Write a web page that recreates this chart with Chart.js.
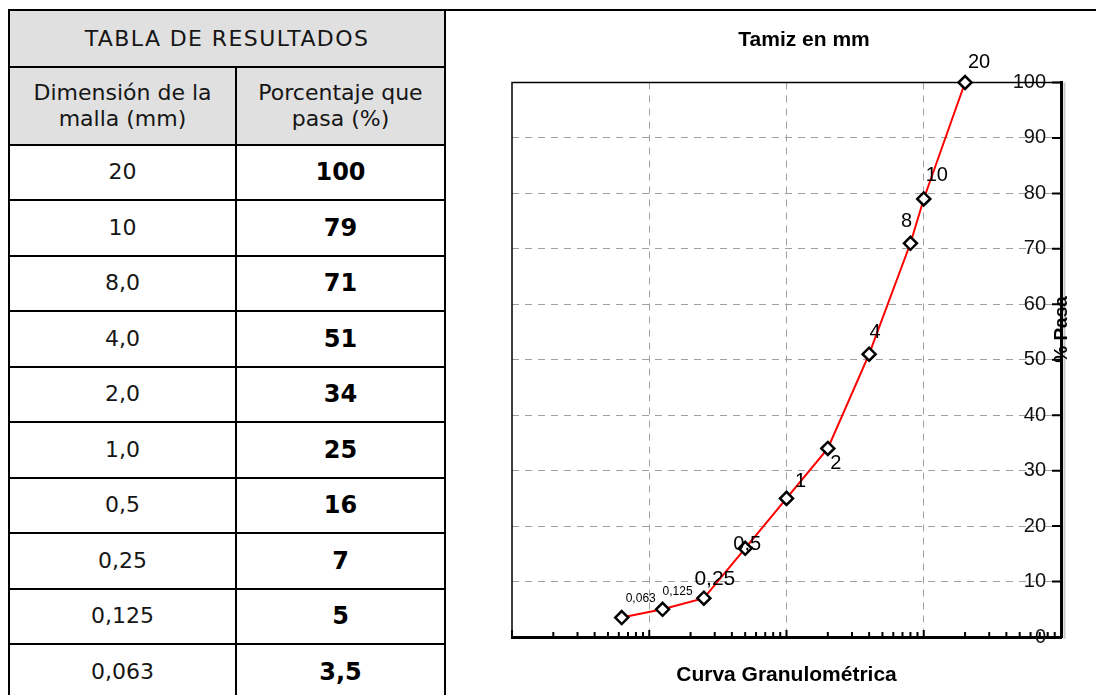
<!DOCTYPE html>
<html>
<head>
<meta charset="utf-8">
<script src="https://cdn.jsdelivr.net/npm/chart.js@4"></script>
<style>
  body { margin: 0; width: 1096px; height: 695px; overflow: hidden; position: relative; background: #fff; }
  #tabla {
    position: absolute; left: 8px; top: 9px; width: 438px;
    display: grid; grid-template-columns: 227px 209px;
    grid-template-rows: 57px 77.5px repeat(10, 55.5px);
    border-left: 2px solid #000; border-top: 2px solid #000;
    font-family: "DejaVu Sans", sans-serif; color: #161616;
  }
  #tabla .c {
    border-right: 2px solid #000; border-bottom: 2px solid #000;
    display: flex; align-items: center; justify-content: center; text-align: center;
    font-size: 22px; line-height: 26px;
  }
  #tabla .gris { background: #e0e0e0; }
  #tabla .tit { grid-column: 1 / 3; letter-spacing: 1.4px; }
  #tabla .n { font-weight: bold; font-size: 24px; color: #000; }
  #panel {
    position: absolute; left: 444px; top: 9px; width: 652px; height: 686px;
    border-top: 2px solid #000; border-left: 2px solid #000; box-sizing: border-box;
  }
  #grafico { position: absolute; left: 0; top: 0; }
</style>
</head>
<body>
<div id="tabla">
  <div class="c gris tit">TABLA DE RESULTADOS</div>
  <div class="c gris">Dimensión de la<br>malla (mm)</div>
  <div class="c gris">Porcentaje que<br>pasa (%)</div>
</div>
<div id="panel"><canvas id="grafico" width="650" height="684"></canvas></div>
<script>
const tamices = [20, 10, 8, 4, 2, 1, 0.5, 0.25, 0.125, 0.063];
const pasa = [100, 79, 71, 51, 34, 25, 16, 7, 5, 3.5];
const rotulos = ['20', '10', '8', '4', '2', '1', '0,5', '0,25', '0,125', '0,063'];
const mallaTabla = ['20', '10', '8,0', '4,0', '2,0', '1,0', '0,5', '0,25', '0,125', '0,063'];
const decadas = [0.01, 0.1, 1, 10, 100];
const marcasY = [0, 10, 20, 30, 40, 50, 60, 70, 80, 90, 100];

// where each sieve label sits next to its marker: dx, dy, font size
const posRotulos = [
  [14, -20, 20], [13, -23, 20], [-4, -22, 20], [6, -22, 20], [8, 15, 20],
  [14, -17, 20], [2, -4, 20], [11, -19, 21], [15, -18, 12], [19, -19, 12]
];

// rows of the results table
const tabla = document.getElementById('tabla');
mallaTabla.forEach((m, i) => {
  const a = document.createElement('div');
  a.className = 'c';
  a.textContent = m;
  const b = document.createElement('div');
  b.className = 'c n';
  b.textContent = String(pasa[i]).replace('.', ',');
  tabla.append(a, b);
});

const fuente = 'Liberation Sans';

// plot frame, inward ticks and the "% Pasa" caption
const marco = {
  id: 'marco',
  beforeDatasetsDraw(chart) {
    const {ctx, chartArea: a, scales: {x, y}} = chart;
    ctx.save();
    ctx.strokeStyle = '#000';
    ctx.lineWidth = 1.5;
    ctx.beginPath();
    ctx.moveTo(a.left, a.bottom);
    ctx.lineTo(a.left, a.top);
    ctx.lineTo(a.right, a.top);
    ctx.stroke();

    ctx.strokeStyle = '#c8c8c8';
    ctx.lineWidth = 2;
    ctx.beginPath();
    ctx.moveTo(a.right + 3.5, a.top);
    ctx.lineTo(a.right + 3.5, a.bottom + 2);
    ctx.stroke();

    ctx.strokeStyle = '#000';
    ctx.lineWidth = 2;
    ctx.beginPath();
    marcasY.forEach(v => {
      const py = y.getPixelForValue(v);
      ctx.moveTo(a.right - 9, py);
      ctx.lineTo(a.right, py);
    });
    decadas.forEach((d, j) => {
      const n = j < decadas.length - 1 ? 9 : 1;
      for (let k = 1; k <= n; k++) {
        const px = x.getPixelForValue(d * k);
        ctx.moveTo(px, a.bottom);
        ctx.lineTo(px, a.bottom - (k === 1 ? 7 : 5));
      }
    });
    ctx.stroke();

    ctx.translate(a.right + 1, 318.5);
    ctx.rotate(-Math.PI / 2);
    ctx.fillStyle = '#000';
    ctx.font = 'bold 19px "' + fuente + '"';
    ctx.textAlign = 'center';
    ctx.textBaseline = 'middle';
    ctx.fillText('% Pasa', 0, 0);
    ctx.restore();
  }
};

const etiquetas = {
  id: 'etiquetas',
  afterDatasetsDraw(chart) {
    const {ctx} = chart;
    const puntos = chart.getDatasetMeta(0).data;
    ctx.save();
    ctx.fillStyle = '#000';
    ctx.textAlign = 'center';
    ctx.textBaseline = 'middle';
    puntos.forEach((p, i) => {
      const [dx, dy, tam] = posRotulos[i];
      ctx.font = tam + 'px "' + fuente + '"';
      ctx.fillText(rotulos[i], p.x + dx, p.y + dy);
    });
    ctx.restore();
  }
};

const sinBorde = v => v === 0 || v === 100 || v === 0.01;

new Chart(document.getElementById('grafico'), {
  type: 'scatter',
  data: {
    datasets: [{
      data: tamices.map((t, i) => ({x: t, y: pasa[i]})),
      showLine: true,
      borderColor: '#ff0000',
      borderWidth: 2,
      pointStyle: 'rectRot',
      pointRadius: 6.5,
      pointHoverRadius: 6.5,
      pointBorderWidth: 2.5,
      pointBorderColor: '#000',
      pointBackgroundColor: '#fff',
      clip: false
    }]
  },
  options: {
    responsive: false,
    animation: false,
    events: [],
    layout: {padding: {left: 66, right: 0, top: 0, bottom: 0}},
    plugins: {
      legend: {display: false},
      tooltip: {enabled: false},
      title: {
        display: true,
        text: 'Tamiz en mm',
        color: '#000',
        font: {family: fuente, size: 21, weight: 'bold', lineHeight: 1.2},
        padding: {top: 16.4, bottom: 29.9}
      }
    },
    scales: {
      x: {
        type: 'logarithmic',
        min: 0.01,
        max: 100,
        afterBuildTicks: s => { s.ticks = decadas.map(v => ({value: v})); },
        afterFit: s => { s.height = 58; },
        ticks: {display: false},
        grid: {
          color: c => (c.tick && sinBorde(c.tick.value)) ? 'rgba(0,0,0,0)' : '#a0a0a0',
          lineWidth: 1,
          drawTicks: false
        },
        border: {color: '#000', width: 3, dash: [7, 6]},
        title: {
          display: true,
          text: 'Curva Granulométrica',
          color: '#000',
          font: {family: fuente, size: 21, weight: 'bold', lineHeight: 1.2},
          padding: {top: 0, bottom: 7.4}
        }
      },
      y: {
        type: 'linear',
        position: 'right',
        min: 0,
        max: 100,
        afterBuildTicks: s => { s.ticks = marcasY.map(v => ({value: v})); },
        afterFit: s => { s.width = 35; },
        ticks: {mirror: true, padding: -15, color: '#111', font: {family: fuente, size: 20}},
        grid: {
          color: c => (c.tick && sinBorde(c.tick.value)) ? 'rgba(0,0,0,0)' : '#a0a0a0',
          lineWidth: 1,
          drawTicks: false
        },
        border: {color: '#000', width: 3, dash: [7, 6]}
      }
    }
  },
  plugins: [marco, etiquetas]
});
</script>
</body>
</html>
